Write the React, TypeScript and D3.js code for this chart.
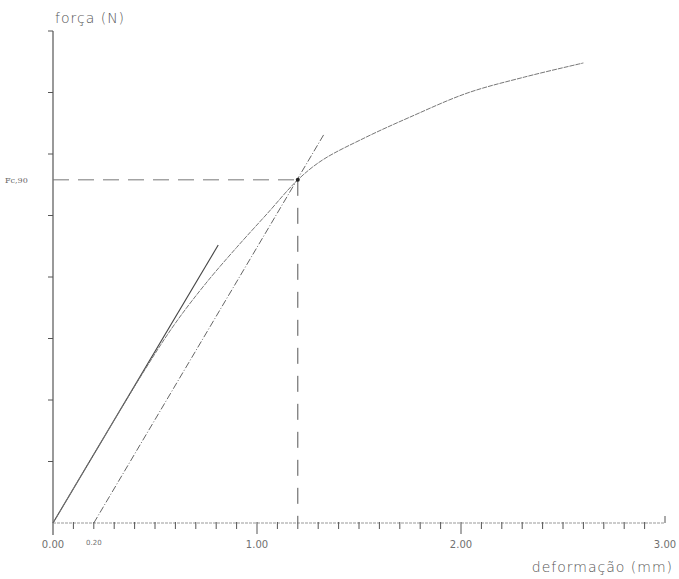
import React, { useEffect, useRef } from "react";
import * as d3 from "d3";

// deformação (mm) vs força
const curveDef = [0, 0.45, 0.6, 0.75, 0.9, 1.05, 1.2, 1.32, 1.52, 1.75, 2.03, 2.31, 2.6];
const curveForce = [0, 2.49, 3.25, 3.9, 4.48, 5.03, 5.58, 5.9, 6.25, 6.6, 6.99, 7.25, 7.48];

const tangentDef = [0, 0.81];
const tangentForce = [0, 4.52];

const offsetDef = [0.2, 1.33];
const offsetForce = [0, 6.33];

const fcDef = 1.2;
const fcForce = 5.58;

const xMajor = [0, 1, 2, 3];
const xMajorLabels = ["0.00", "1.00", "2.00", "3.00"];
const xMinor = d3.range(1, 30).map((i) => i / 10);
const yTicks = [1, 2, 3, 4, 5, 6, 7, 8];

const FONT = "'DejaVu Sans', 'Noto Sans', sans-serif";

const App = () => {
  const ref = useRef<SVGSVGElement | null>(null);

  useEffect(() => {
    const svg = d3.select(ref.current);
    svg.selectAll("*").remove();

    const x = d3.scaleLinear().domain([0, 3]).range([53, 665]);
    const y = d3.scaleLinear().domain([0, 8]).range([523, 31]);
    const axisColor = "#555";
    const textColor = "#707070";

    svg.append("rect").attr("width", 679).attr("height", 579).attr("fill", "#fff");

    // y axis
    svg
      .append("line")
      .attr("x1", x(0))
      .attr("x2", x(0))
      .attr("y1", y(8))
      .attr("y2", y(0) + 12)
      .attr("stroke", axisColor)
      .attr("stroke-width", 1.2);
    yTicks.forEach((t) => {
      svg
        .append("line")
        .attr("x1", x(0) - 5)
        .attr("x2", x(0))
        .attr("y1", y(t))
        .attr("y2", y(t))
        .attr("stroke", axisColor);
    });

    // x axis
    svg
      .append("line")
      .attr("x1", x(0))
      .attr("x2", x(3))
      .attr("y1", y(0))
      .attr("y2", y(0))
      .attr("stroke", "#999")
      .attr("stroke-dasharray", "3,1");
    xMinor.forEach((t) => {
      const major = Math.abs(t - Math.round(t)) < 1e-6;
      svg
        .append("line")
        .attr("x1", x(t))
        .attr("x2", x(t))
        .attr("y1", y(0) - 1)
        .attr("y2", y(0) + (major ? 11 : 6))
        .attr("stroke", axisColor);
    });
    svg
      .append("line")
      .attr("x1", x(3))
      .attr("x2", x(3))
      .attr("y1", y(0) - 7)
      .attr("y2", y(0))
      .attr("stroke", axisColor);

    xMajor.forEach((v, i) => {
      svg
        .append("text")
        .attr("x", x(v))
        .attr("y", y(0) + 25)
        .attr("text-anchor", "middle")
        .style("font-family", FONT)
        .style("font-size", "10px")
        .style("fill", textColor)
        .text(xMajorLabels[i]);
    });
    svg
      .append("text")
      .attr("x", x(0.2))
      .attr("y", y(0) + 22)
      .attr("text-anchor", "middle")
      .style("font-family", FONT)
      .style("font-size", "7px")
      .style("fill", textColor)
      .text("0.20");

    // axis titles
    svg
      .append("text")
      .attr("x", 55)
      .attr("y", 23)
      .style("font-family", FONT)
      .style("font-size", "14px")
      .style("font-weight", 200)
      .style("letter-spacing", "1px")
      .style("fill", "#555")
      .text("força (N)");
    svg
      .append("text")
      .attr("x", 673)
      .attr("y", 572)
      .attr("text-anchor", "end")
      .style("font-family", FONT)
      .style("font-size", "14px")
      .style("font-weight", 200)
      .style("letter-spacing", "1px")
      .style("fill", "#555")
      .text("deformação (mm)");

    // Fc,90 guide lines
    svg
      .append("line")
      .attr("x1", x(0))
      .attr("x2", x(fcDef))
      .attr("y1", y(fcForce))
      .attr("y2", y(fcForce))
      .attr("stroke", "#777")
      .attr("stroke-dasharray", "16,9");
    svg
      .append("line")
      .attr("x1", x(fcDef))
      .attr("x2", x(fcDef))
      .attr("y1", y(fcForce))
      .attr("y2", y(0) - 1)
      .attr("stroke", "#555")
      .attr("stroke-dasharray", "16,12");
    svg
      .append("text")
      .attr("x", 5)
      .attr("y", y(fcForce) + 3)
      .style("font-family", "'DejaVu Serif', serif")
      .style("font-size", "8px")
      .style("fill", "#666")
      .text("Fc,90");

    const path = (xs: number[], fs: number[]) =>
      d3
        .line<number>()
        .x((d) => x(d))
        .y((_, i) => y(fs[i]))
        .curve(d3.curveCatmullRom.alpha(0.5))(xs);

    // initial tangent
    svg
      .append("path")
      .attr("d", path(tangentDef, tangentForce))
      .attr("fill", "none")
      .attr("stroke", "#444")
      .attr("stroke-width", 1.1);

    // tangent shifted to 0.20
    svg
      .append("path")
      .attr("d", path(offsetDef, offsetForce))
      .attr("fill", "none")
      .attr("stroke", "#666")
      .attr("stroke-width", 1)
      .attr("stroke-dasharray", "7,2,1,2");

    // force-deformation curve
    svg
      .append("path")
      .attr("d", path(curveDef, curveForce))
      .attr("fill", "none")
      .attr("stroke", "#777")
      .attr("stroke-width", 1)
      .attr("stroke-dasharray", "5,1");

    svg
      .append("circle")
      .attr("cx", x(fcDef))
      .attr("cy", y(fcForce))
      .attr("r", 2)
      .attr("fill", "#222");
  }, []);

  return (
    <svg
      ref={ref}
      width={679}
      height={579}
      style={{ position: "absolute", left: 0, top: 0 }}
    />
  );
};

export default App;
